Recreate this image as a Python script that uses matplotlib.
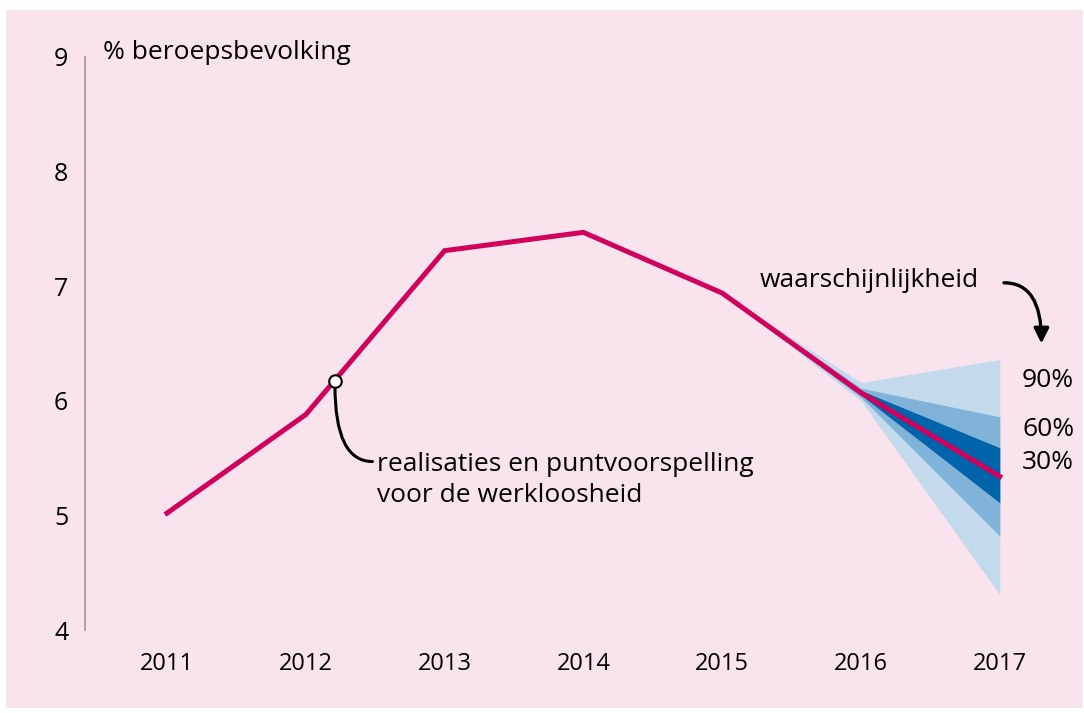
import matplotlib
matplotlib.use('Agg')
import matplotlib.pyplot as plt
from matplotlib.patches import Rectangle

plt.rcParams['font.family'] = ['Open Sans', 'DejaVu Sans']

# werkloosheid, % beroepsbevolking
jaren = [2011, 2012, 2013, 2014, 2015, 2016, 2017]
werkloosheid = [5.02, 5.88, 7.31, 7.47, 6.94, 6.07, 5.34]

# onzekerheidsmarges rond de raming
fan_jaren = [2015, 2016, 2017]
boven_90 = [6.94, 6.16, 6.36]
onder_90 = [6.94, 6.00, 4.31]
boven_60 = [6.94, 6.11, 5.86]
onder_60 = [6.94, 6.03, 4.82]
boven_30 = [6.94, 6.09, 5.59]
onder_30 = [6.94, 6.05, 5.11]

y_ticks = [4, 5, 6, 7, 8, 9]

roze = '#f9e3ec'
rood = '#d1005d'
blauw_licht = '#c3d9ec'
blauw_mid = '#80b3d7'
blauw_donker = '#0064ab'

W, H = 1084, 713
fig = plt.figure(figsize=(W / 100, H / 100), dpi=100, facecolor='white')

# roze achtergrondvlak
fig.patches.append(Rectangle((6 / W, 5 / H), 1077 / W, 698 / H,
                             transform=fig.transFigure, facecolor=roze,
                             edgecolor='none', zorder=-10))

# assen: linker spine op x=85px, y=4 op 630px, y=9 op 57px
ax = fig.add_axes([85 / W, 83 / H, (1060 - 85) / W, (630 - 57) / H])
ax.set_facecolor('none')
px = 138.8  # pixels per jaar
ax.set_xlim(2011 - (167 - 85) / px, 2011 + (1060 - 167) / px)
ax.set_ylim(4, 9)

for s in ['top', 'right', 'bottom']:
    ax.spines[s].set_visible(False)
ax.spines['left'].set_color('#a8a8a8')
ax.spines['left'].set_linewidth(1.5)

ax.set_yticks(y_ticks)
ax.set_xticks(jaren)
ax.tick_params(axis='y', length=0, pad=12, labelsize=18)
ax.tick_params(axis='x', length=0, pad=16, labelsize=17)

# waaier
ax.fill_between(fan_jaren, onder_90, boven_90, color=blauw_licht, lw=0, zorder=2)
ax.fill_between(fan_jaren, onder_60, boven_60, color=blauw_mid, lw=0, zorder=3)
ax.fill_between(fan_jaren, onder_30, boven_30, color=blauw_donker, lw=0, zorder=4)

ax.plot(jaren, werkloosheid, color=rood, lw=3.6, solid_joinstyle='miter', zorder=5)

# marker met toelichting
cx, cy = 2012.21, 6.17
ax.annotate('', xy=(cx, cy - 0.04), xytext=(2012.48, 5.47),
            arrowprops=dict(arrowstyle='-', color='black', lw=2.2,
                            connectionstyle='angle3,angleA=0,angleB=90',
                            shrinkA=0, shrinkB=0), zorder=6)
ax.plot([cx], [cy], 'o', ms=9, mfc='white', mec='black', mew=1.5, zorder=7)
ax.text(2012.51, 5.31, 'realisaties en puntvoorspelling\nvoor de werkloosheid',
        fontsize=19, va='center', ha='left', linespacing=1.3)

ax.text(2010.54, 9.04, '% beroepsbevolking', fontsize=19, va='center', ha='left',
        clip_on=False)

ax.text(2015.27, 7.05, 'waarschijnlijkheid', fontsize=19, va='center', ha='left')
ax.annotate('', xy=(2017.3, 6.5), xytext=(2017.03, 7.03),
            arrowprops=dict(arrowstyle='-|>,head_width=0.45,head_length=0.9',
                            color='black', lw=2.4,
                            connectionstyle='angle3,angleA=0,angleB=90',
                            shrinkA=0, shrinkB=0), annotation_clip=False)

for lbl, yv in [('90%', 6.18), ('60%', 5.75), ('30%', 5.46)]:
    ax.text(2017.16, yv, lbl, fontsize=19, va='center', ha='left', clip_on=False)

fig.savefig('out.png', dpi=100, facecolor='white')
